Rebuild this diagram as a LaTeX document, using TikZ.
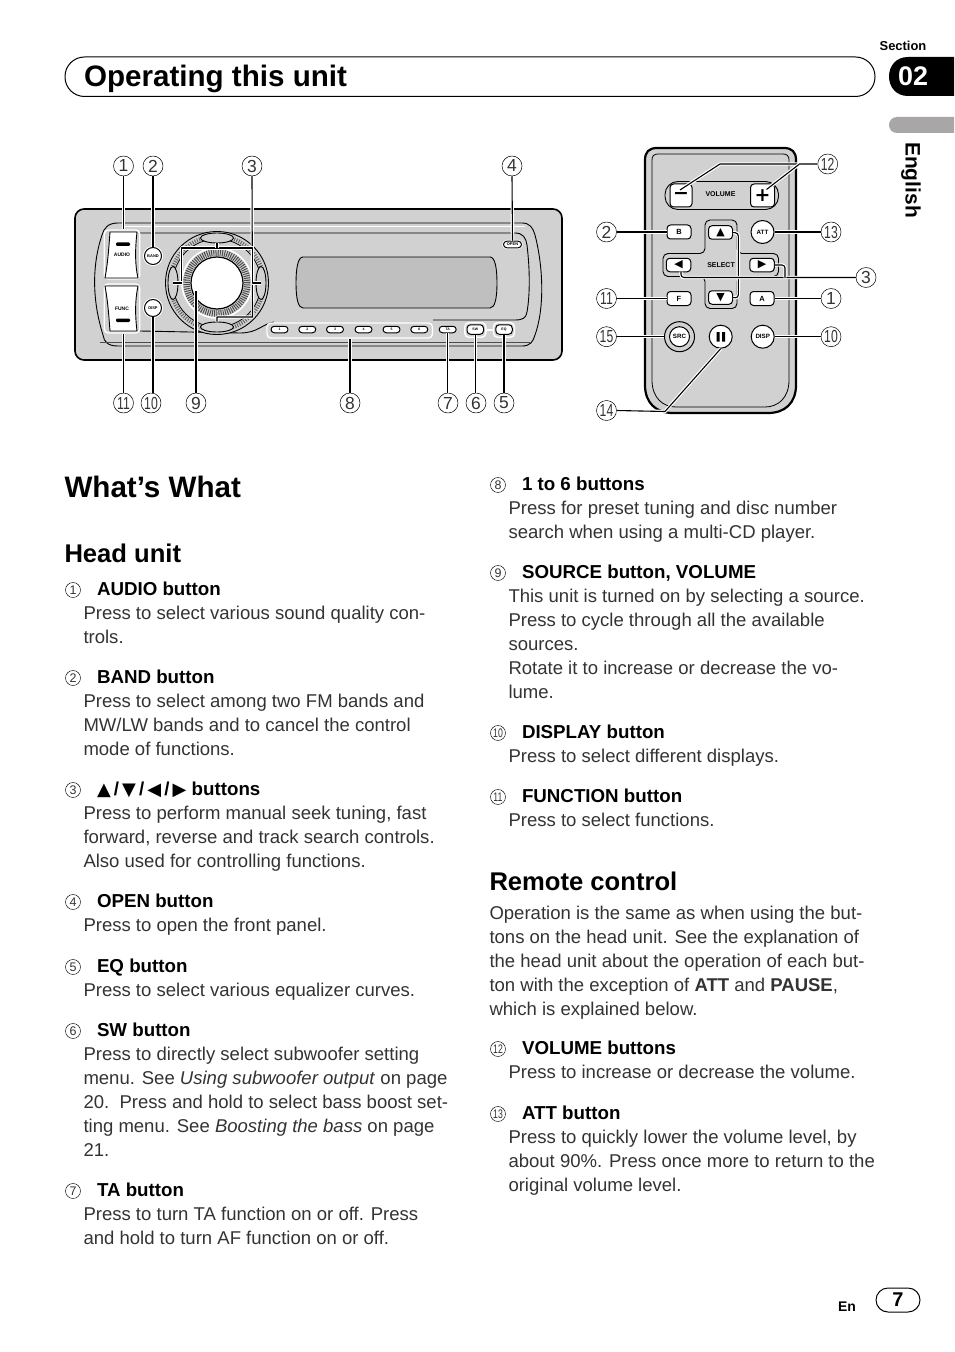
\documentclass[tikz,border=0pt]{standalone}
\usepackage{fontspec}
\usepackage{graphicx}
\setmainfont{Liberation Sans}
\newfontfamily\symfont{DejaVu Sans}
\usetikzlibrary{arrows,shapes}

\definecolor{panelcol}{rgb}{0.82,0.82,0.82}
\definecolor{screencol}{rgb}{0.75,0.75,0.75}
\definecolor{tabcol}{rgb}{0.66,0.65,0.65}
\definecolor{textcol}{rgb}{0.2,0.2,0.2}

\newcommand{\twodig}[1]{\scalebox{0.7}[1]{#1}}
\newcommand{\tri}[1]{{\symfont\fontsize{18}{18}\selectfont #1}}

\tikzset{
  callout/.style={circle,draw,line width=0.5bp,inner sep=0pt,minimum size=20bp,font=\fontsize{17.5}{18}\selectfont,text=textcol,fill=white},
  itemnum/.style={circle,draw,line width=0.45bp,inner sep=0pt,minimum size=15bp,yshift=-1bp,font=\fontsize{12.5}{13}\selectfont,text=textcol},
  bodytext/.style={anchor=west,inner sep=0pt,xshift=-1bp,yshift=-1bp,text height=14bp,text depth=4bp,text=textcol,font=\fontsize{18.6}{24}\selectfont},
  headtext/.style={anchor=west,inner sep=0pt,xshift=-0.5bp,yshift=-1bp,text height=14bp,text depth=4bp,font=\fontsize{18.8}{24}\bfseries\selectfont},
  bigtext/.style={anchor=west,inner sep=0pt,xshift=-1bp,font=\fontsize{29.7}{30}\bfseries\selectfont},
  midtext/.style={anchor=west,inner sep=0pt,xshift=-1bp,font=\fontsize{25.7}{26}\bfseries\selectfont},
  leader/.style={preaction={draw=white,line width=3.4bp},line width=1.1bp,black},
  keybox/.style={rectangle,rounded corners=3.5bp,draw,line width=1bp,fill=white,inner sep=0pt,font=\fontsize{7}{7}\bfseries\selectfont},
  keyround/.style={circle,draw,line width=1bp,fill=white,inner sep=0pt,font=\fontsize{7}{7}\bfseries\selectfont},
  presetkey/.style={rounded rectangle,draw,line width=1bp,fill=white,minimum width=17bp,minimum height=6.5bp,inner sep=0pt,font=\fontsize{3.5}{4}\bfseries\selectfont},
  halo/.style={rounded corners=4bp,draw=white,line width=1.4bp},
  outline/.style={line width=0.9bp,black}
}

\begin{document}
\begin{tikzpicture}[x=1bp,y=-1bp,>=latex',line join=bevel]
\pgfsetlinewidth{1bp}
\pgfsetcolor{black}
\fill[white] (0,0) rectangle (954,1352);
\useasboundingbox (0,0) rectangle (954,1352);

% Page header
\draw[line width=1bp,rounded corners=19.5bp] (65,57) rectangle (875,96.5);
\node[bigtext] (title) at (84.5,79) {Operating this unit};
\node[inner sep=0pt,font=\fontsize{13}{14}\bfseries\selectfont] (section) at (903,46) {Section};
\fill[black] (954,57) -- (908,57) .. controls (896,57) and (889,66) .. (889,76.5) .. controls (889,87) and (896,96) .. (908,96) -- (954,96) -- cycle;
\node[text=white,inner sep=0pt,font=\fontsize{27}{28}\bfseries\selectfont] (secno) at (913,76) {02};
\fill[tabcol] (954,117) -- (897,117) .. controls (892,117) and (889,121) .. (889,125) .. controls (889,129) and (892,133) .. (897,133) -- (954,133) -- cycle;
\node[rotate=-90,inner sep=0pt,font=\fontsize{21}{21}\bfseries\selectfont] (lang) at (911,180) {English};

% Head unit body
\draw[fill=panelcol,line width=1.6bp,rounded corners=9bp] (75,209) rectangle (562,360);
\draw[outline] (118,223) -- (522,223) .. controls (530,223) and (533,228) .. (535,235) .. controls (544,270) and (544,310) .. (535,335) .. controls (533,342) and (530,346) .. (522,346) -- (118,346) .. controls (108,346) and (104,342) .. (103,335) .. controls (92,300) and (92,265) .. (102,235) .. controls (104,228) and (108,223) .. (118,223);
\draw[white,line width=0.8bp] (125,226) -- (525,226);
\draw[black!70,line width=0.7bp] (100,342) -- (530,342);
\draw[outline] (140,233) -- (515,233) .. controls (523,233) and (526,238) .. (527,245) .. controls (530,270) and (530,295) .. (527,312) .. controls (526,318) and (523,320) .. (515,320) -- (433,320);
\draw[outline] (274,322) .. controls (262,324) and (258,333) .. (240,333) -- (140,331);

% Display
\draw[fill=screencol,line width=0.9bp] (303,257) -- (490,257) .. controls (495,257) and (497,268) .. (497,283) .. controls (497,298) and (495,308) .. (490,308) -- (303,308) .. controls (298,308) and (296,298) .. (296,283) .. controls (296,268) and (298,257) .. (303,257) -- cycle;

% Dial
\draw[fill=panelcol,line width=0.9bp] (217,283) circle (51.5bp);
\draw[black!60,line width=4bp,dash pattern=on 1bp off 1.4bp] (217,283) circle (47bp);
\draw[fill=panelcol,line width=0.8bp] (217,283) circle (44bp);
\draw[white,line width=1.6bp] (217,283) circle (35bp);
\draw[black!70,line width=6.5bp,dash pattern=on 1bp off 1.2bp] (217,283) circle (30.5bp);
\node[circle,fill=white,draw,line width=1.2bp,minimum size=52bp,inner sep=0pt] (dial) at (217,283) {};
\node[ellipse,draw,fill=panelcol,line width=0.9bp,minimum width=33bp,minimum height=10bp,inner sep=0pt] (dialtop) at (217,238) {};
\node[ellipse,draw,fill=panelcol,line width=0.9bp,minimum width=33bp,minimum height=10bp,inner sep=0pt] (dialbot) at (217,327) {};
\node[ellipse,draw,fill=panelcol,line width=0.9bp,minimum width=10bp,minimum height=33bp,inner sep=0pt] (dialleft) at (173,283) {};
\node[ellipse,draw,fill=panelcol,line width=0.9bp,minimum width=10bp,minimum height=33bp,inner sep=0pt] (dialright) at (261,283) {};

% Left buttons
\node[rectangle,halo,minimum width=35.5bp,minimum height=49bp] (audiobtn) at (122,254.5) {};
\draw[fill=white,line width=0.9bp] (110,232) -- (137,232) .. controls (135,250) and (135,265) .. (138,278) -- (105,278) .. controls (108,262) and (109,245) .. (110,232) -- cycle;
\fill[black,rounded corners=1.2bp] (116,242.5) rectangle (130,246);
\node[inner sep=0pt,font=\fontsize{5}{5}\bfseries\selectfont] (audiotxt) at (122,255) {AUDIO};
\node[rectangle,halo,minimum width=35.5bp,minimum height=49bp] (funcbtn) at (122,308.5) {};
\draw[fill=white,line width=0.9bp] (105,286) -- (138,286) .. controls (135,300) and (135,315) .. (137,331) -- (110,331) .. controls (109,318) and (108,302) .. (105,286) -- cycle;
\fill[black,rounded corners=1.2bp] (116,318.5) rectangle (130,322);
\node[inner sep=0pt,font=\fontsize{5}{5}\bfseries\selectfont] (functxt) at (122,309) {FUNC};
\node[keyround,preaction={draw=white,line width=3bp},minimum size=17bp,font=\fontsize{4}{4}\bfseries\selectfont] (bandbtn) at (153,256) {BAND};
\node[keyround,preaction={draw=white,line width=3bp},minimum size=17bp,font=\fontsize{4}{4}\bfseries\selectfont] (dispbtn) at (153,308) {DISP};
\node[presetkey,preaction={draw=white,line width=2.5bp},minimum width=18bp,font=\fontsize{4}{4}\bfseries\selectfont] (openbtn) at (512.5,244.5) {OPEN};

% Preset row
\draw[halo,fill=panelcol] (267,323) rectangle (432.5,338);
\node[presetkey] (p1) at (279.5,329.5) {1};
\node[presetkey] (p2) at (307.3,329.5) {2};
\node[presetkey] (p3) at (335,329.5) {3};
\node[presetkey] (p4) at (363.5,329.5) {4};
\node[presetkey] (p5) at (391.5,329.5) {5};
\node[presetkey] (p6) at (419.3,329.5) {6};
\node[presetkey] (tabtn) at (447.7,329.5) {TA};
\draw[white,line width=1.3bp] (485,330) -- (494,330);
\node[rectangle,halo,minimum width=21bp,minimum height=14.5bp] (swbox) at (475.3,330) {};
\node[rectangle,halo,minimum width=21bp,minimum height=14.5bp] (eqbox) at (504,330) {};
\node[keybox,minimum width=16.5bp,minimum height=9.5bp,font=\fontsize{3.5}{4}\bfseries\selectfont] (swbtn) at (475.3,329.5) {SW};
\node[keybox,minimum width=16.5bp,minimum height=9.5bp,font=\fontsize{3.5}{4}\bfseries\selectfont] (eqbtn) at (504,329.5) {EQ};

% Node: head unit callouts
\node[callout] (c1) at (123.5,166) {1};
\node[callout] (c2) at (153,166) {2};
\node[callout] (c3) at (252,166) {3};
\node[callout] (c4) at (512,166) {4};
\node[callout] (c11) at (123.5,403) {\twodig{11}};
\node[callout] (c10) at (151,403) {\twodig{10}};
\node[callout] (c9) at (196,403) {9};
\node[callout] (c8) at (350,403) {8};
\node[callout] (c7) at (448,403) {7};
\node[callout] (c6) at (476,403) {6};
\node[callout] (c5) at (504,403) {5};

% Edge: callouts -> head unit
\draw[leader] (c1.south) -- (c1 |- audiobtn.north);
\draw[leader] (c2.south) -- (bandbtn.north);
\draw[leader] (c3.south) -- (252.5,317) -- (217,317) -- (dialbot.north);
\draw[leader] (181.5,283) -- (181.5,248) -- (252.5,248) -- (252.5,283) -- (dialright.center);
\draw[leader] (181.5,283) -- (dialleft.center);
\draw[leader] (217,248) -- (dialtop.south);
\draw[leader] (c4.south) -- (openbtn.north);
\draw[leader] (c11.north) -- (c11 |- funcbtn.south);
\draw[leader] (dispbtn.south) -- (dispbtn.south |- c10.north);
\draw[leader] (196,291) -- (c9.north);
\draw[leader] (350,338.5) -- (c8.north);
\draw[leader] (tabtn.south) -- (tabtn.south |- c7.north);
\draw[leader] (swbtn.south) -- (swbtn.south |- c6.north);
\draw[leader] (eqbtn.south) -- (eqbtn.south |- c5.north);

% Remote body
\draw[fill=panelcol,line width=2.2bp] (645,160) .. controls (645,152) and (649,148) .. (657,148) -- (784,148) .. controls (792,148) and (796,152) .. (796,160) -- (796,385) .. controls (796,403) and (785,413) .. (768,413) -- (673,413) .. controls (656,413) and (645,403) .. (645,385) -- cycle;
\draw[line width=0.8bp] (652,160) .. controls (652,156) and (654,154) .. (658,154) -- (783,154) .. controls (787,154) and (789,156) .. (789,160) -- (789,380) .. controls (789,398) and (778,407) .. (765,407) -- (676,407) .. controls (663,407) and (652,398) .. (652,380) -- cycle;

% Volume keys
\draw[outline,rounded corners=13bp] (665,181.5) rectangle (778.5,209.5);
\node[keybox,minimum width=22bp,minimum height=23bp,font=\fontsize{19}{19}\bfseries\selectfont] (volminus) at (681,195.5) {\symfont −};
\node[keybox,minimum width=24bp,minimum height=23bp,font=\fontsize{19}{19}\bfseries\selectfont] (volplus) at (762.5,195.5) {\symfont +};
\node[inner sep=0pt,font=\fontsize{7}{7}\bfseries\selectfont] (voltxt) at (720.5,194.5) {VOLUME};
\coordinate (minustip) at (680,190);
\coordinate (plustip) at (766.5,189.5);

% Select keys
\draw[outline,rounded corners=5bp] (705,220) -- (737,220) -- (737,253.5) -- (778.5,253.5) -- (778.5,276.5) -- (737,276.5) -- (737,308.5) -- (705,308.5) -- (705,276.5) -- (663,276.5) -- (663,253.5) -- (705,253.5) -- cycle;
\node[keybox,minimum width=24bp,minimum height=13.5bp,font=\fontsize{11}{11}\selectfont] (keyup) at (720.5,232.5) {\symfont ▲};
\node[keybox,minimum width=24bp,minimum height=13.5bp,font=\fontsize{11}{11}\selectfont] (keydown) at (720.5,297.5) {\symfont ▼};
\node[keybox,minimum width=24.5bp,minimum height=13.5bp,font=\fontsize{11}{11}\selectfont] (keyleft) at (678.5,265) {\symfont ◀};
\node[keybox,minimum width=24.5bp,minimum height=13.5bp,font=\fontsize{11}{11}\selectfont] (keyright) at (762,265) {\symfont ▶};
\node[inner sep=0pt,font=\fontsize{7}{7}\bfseries\selectfont] (seltxt) at (721,265) {SELECT};

% Other remote keys
\node[keybox,minimum width=24bp,minimum height=14bp,font=\fontsize{7.5}{8}\bfseries\selectfont] (keyb) at (679,232) {B};
\node[keybox,minimum width=24bp,minimum height=14bp,font=\fontsize{7.5}{8}\bfseries\selectfont] (keyf) at (679,298.5) {F};
\node[keybox,minimum width=24bp,minimum height=14bp,font=\fontsize{7.5}{8}\bfseries\selectfont] (keya) at (762,298.5) {A};
\node[keyround,minimum size=23bp,font=\fontsize{6.2}{7}\bfseries\selectfont] (keyatt) at (762.5,232) {ATT};
\node[keyround,minimum size=30bp,fill=panelcol] (srcring) at (679.5,336.7) {};
\node[keyround,minimum size=20bp,font=\fontsize{6.2}{7}\bfseries\selectfont] (keysrc) at (679.5,336.7) {SRC};
\node[keyround,minimum size=23bp] (keypause) at (720.7,336.7) {};
\fill[black] (716.5,332) rectangle (719.5,341.5) (722,332) rectangle (725,341.5);
\node[keyround,minimum size=23bp,font=\fontsize{6.2}{7}\bfseries\selectfont] (keydisp) at (762.7,336.7) {DISP};

% Node: remote callouts
\node[callout] (r12) at (827.7,164) {\twodig{12}};
\node[callout] (r13) at (831,232) {\twodig{13}};
\node[callout] (r3) at (866,277.5) {3};
\node[callout] (r1) at (831,298.5) {1};
\node[callout] (r10) at (831,336.7) {\twodig{10}};
\node[callout] (r2) at (606.5,232) {2};
\node[callout] (r11) at (606.5,298.5) {\twodig{11}};
\node[callout] (r15) at (606.5,336.7) {\twodig{15}};
\node[callout] (r14) at (606.5,410.5) {\twodig{14}};

% Edge: callouts -> remote
\draw[leader] (r12.west) -- (720,164) -- (minustip);
\draw[leader] (799.5,164) -- (plustip);
\draw[leader] (r13.west) -- (keyatt.east);
\draw[leader] (r2.east) -- (keyb.west);
\draw[leader] (r11.east) -- (keyf.west);
\draw[leader] (r1.west) -- (keya.east);
\draw[leader] (r15.east) -- (srcring.west);
\draw[leader] (r10.west) -- (keydisp.east);
\draw[leader] (r14.east) -- (665,411.5) -- (keypause.south);
\draw[leader,rounded corners=3bp] (keyup.east) -- (738.3,233) -- (738.3,298) -- (keydown.east);
\draw[leader,rounded corners=3bp] (r3.west) -- (681,277.5) -- (681,271.7);
\draw[leader,rounded corners=3bp] (785,277.5) -- (785,265) -- (keyright.east);

% Headings
\node[bigtext] (whatwhat) at (65,487) {What’s What};
\node[midtext] (headunit) at (65,553) {Head unit};
\node[midtext] (remotectl) at (490,881) {Remote control};

% Left column
\node[itemnum] (n1) at (73,589) {1};
\node[headtext] (h1) at (97,589) {AUDIO button};
\node[bodytext] (t1a) at (84,613) {Press to select various sound quality con-};
\node[bodytext] (t1b) at (84,637) {trols.};
\node[itemnum] (n2) at (73,677) {2};
\node[headtext] (h2) at (97,677) {BAND button};
\node[bodytext] (t2a) at (84,701) {Press to select among two FM bands and};
\node[bodytext] (t2b) at (84,725) {MW/LW bands and to cancel the control};
\node[bodytext] (t2c) at (84,749) {mode of functions.};
\node[itemnum] (n3) at (73,789) {3};
\node[headtext] (h3) at (97,789) {\tri{▲}\,/\,\tri{▼}\,/\,\tri{◀}\,/\,\tri{▶} buttons};
\node[bodytext] (t3a) at (84,813) {Press to perform manual seek tuning, fast};
\node[bodytext] (t3b) at (84,837) {forward, reverse and track search controls.};
\node[bodytext] (t3c) at (84,861) {Also used for controlling functions.};
\node[itemnum] (n4) at (73,901) {4};
\node[headtext] (h4) at (97,901) {OPEN button};
\node[bodytext] (t4a) at (84,925) {Press to open the front panel.};
\node[itemnum] (n5) at (73,966) {5};
\node[headtext] (h5) at (97,966) {EQ button};
\node[bodytext] (t5a) at (84,990) {Press to select various equalizer curves.};
\node[itemnum] (n6) at (73,1030) {6};
\node[headtext] (h6) at (97,1030) {SW button};
\node[bodytext] (t6a) at (84,1054) {Press to directly select subwoofer setting};
\node[bodytext] (t6b) at (84,1078) {menu. See \textit{Using subwoofer output} on page};
\node[bodytext] (t6c) at (84,1102) {20.\ \ Press and hold to select bass boost set-};
\node[bodytext] (t6d) at (84,1126) {ting menu. See \textit{Boosting the bass} on page};
\node[bodytext] (t6e) at (84,1150) {21.};
\node[itemnum] (n7) at (73,1190) {7};
\node[headtext] (h7) at (97,1190) {TA button};
\node[bodytext] (t7a) at (84,1214) {Press to turn TA function on or off. Press};
\node[bodytext] (t7b) at (84,1238) {and hold to turn AF function on or off.};

% Right column
\node[itemnum] (n8) at (498,484) {8};
\node[headtext] (h8) at (522,484) {1 to 6 buttons};
\node[bodytext] (t8a) at (509,508) {Press for preset tuning and disc number};
\node[bodytext] (t8b) at (509,532) {search when using a multi-CD player.};
\node[itemnum] (n9) at (498,572) {9};
\node[headtext] (h9) at (522,572) {SOURCE button, VOLUME};
\node[bodytext] (t9a) at (509,596) {This unit is turned on by selecting a source.};
\node[bodytext] (t9b) at (509,620) {Press to cycle through all the available};
\node[bodytext] (t9c) at (509,644) {sources.};
\node[bodytext] (t9d) at (509,668) {Rotate it to increase or decrease the vo-};
\node[bodytext] (t9e) at (509,692) {lume.};
\node[itemnum] (n10) at (498,732) {\twodig{10}};
\node[headtext] (h10) at (522,732) {DISPLAY button};
\node[bodytext] (t10a) at (509,756) {Press to select different displays.};
\node[itemnum] (n11) at (498,796) {\twodig{11}};
\node[headtext] (h11) at (522,796) {FUNCTION button};
\node[bodytext] (t11a) at (509,820) {Press to select functions.};
\node[bodytext] (r0a) at (490,913) {Operation is the same as when using the but-};
\node[bodytext] (r0b) at (490,937) {tons on the head unit. See the explanation of};
\node[bodytext] (r0c) at (490,961) {the head unit about the operation of each but-};
\node[bodytext] (r0d) at (490,985) {ton with the exception of \textbf{ATT} and \textbf{PAUSE},};
\node[bodytext] (r0e) at (490,1009) {which is explained below.};
\node[itemnum] (n12) at (498,1048) {\twodig{12}};
\node[headtext] (h12) at (522,1048) {VOLUME buttons};
\node[bodytext] (t12a) at (509,1072) {Press to increase or decrease the volume.};
\node[itemnum] (n13) at (498,1113) {\twodig{13}};
\node[headtext] (h13) at (522,1113) {ATT button};
\node[bodytext] (t13a) at (509,1137) {Press to quickly lower the volume level, by};
\node[bodytext] (t13b) at (509,1161) {about 90\%. Press once more to return to the};
\node[bodytext] (t13c) at (509,1185) {original volume level.};

% Page number
\node[inner sep=0pt,font=\fontsize{14}{14}\bfseries\selectfont] (entxt) at (847,1307) {En};
\node[rounded rectangle,draw,line width=1bp,minimum width=44bp,minimum height=24bp,inner sep=0pt,font=\fontsize{20}{20}\bfseries\selectfont] (pageno) at (898,1300) {7};
%
\end{tikzpicture}
\end{document}
